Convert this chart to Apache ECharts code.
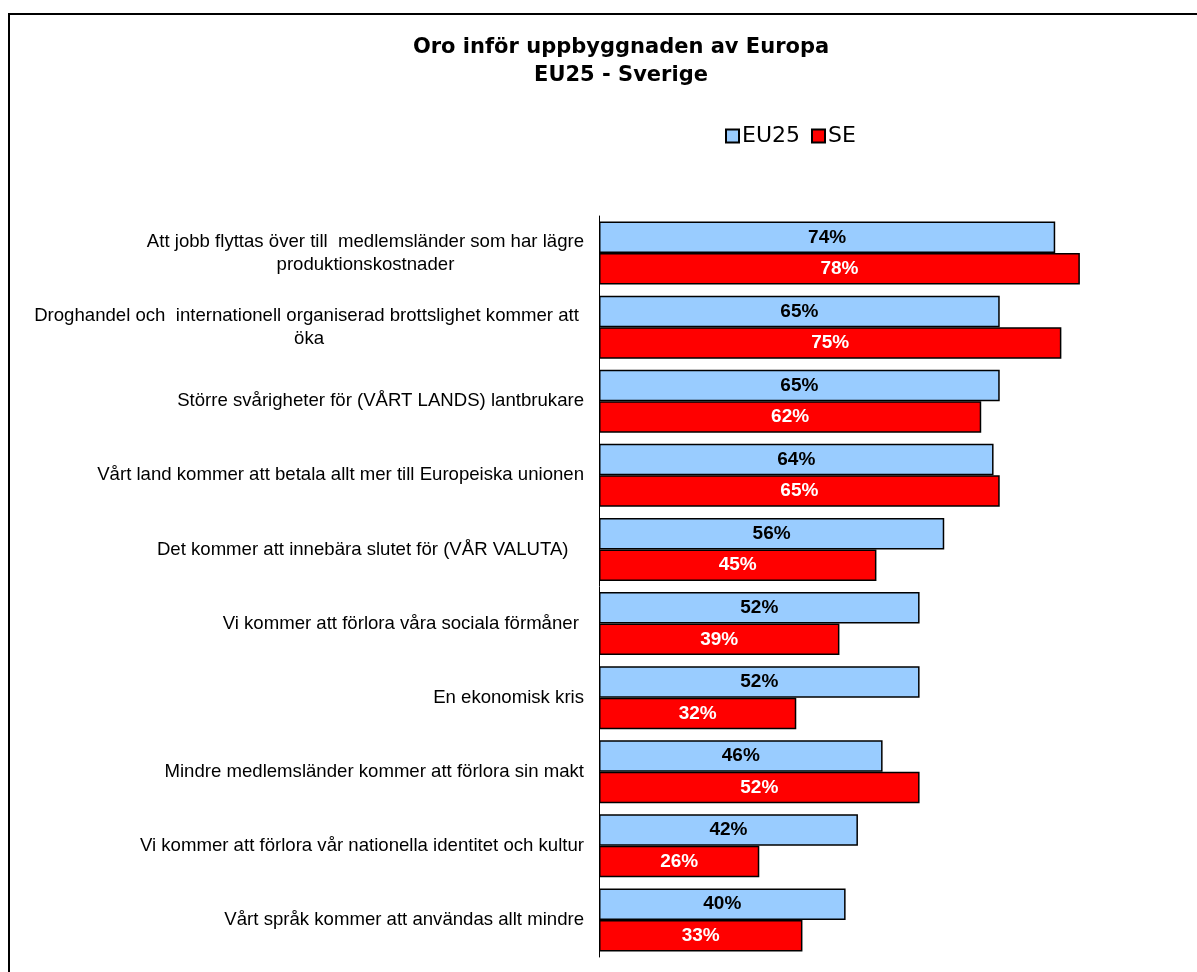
<!DOCTYPE html>
<html>
<head>
<meta charset="utf-8">
<script src="https://cdn.jsdelivr.net/npm/echarts@6/dist/echarts.min.js"></script>
<style>
    html, body { margin: 0; padding: 0; background: #ffffff; }
    #chart { width: 1197px; height: 972px; }
</style>
</head>
<body>
<div id="chart"></div>
<script>
    // kategorier (uppifrån och ned)
    let categories = [
        'Att jobb flyttas över till  medlemsländer som har lägre\nproduktionskostnader',
        'Droghandel och  internationell organiserad brottslighet kommer att \nöka',
        'Större svårigheter för (VÅRT LANDS) lantbrukare',
        'Vårt land kommer att betala allt mer till Europeiska unionen',
        'Det kommer att innebära slutet för (VÅR VALUTA)   ',
        'Vi kommer att förlora våra sociala förmåner ',
        'En ekonomisk kris',
        'Mindre medlemsländer kommer att förlora sin makt',
        'Vi kommer att förlora vår nationella identitet och kultur',
        'Vårt språk kommer att användas allt mindre'
    ]
    let eu25 = [74, 65, 65, 64, 56, 52, 52, 46, 42, 40]
    let se = [78, 75, 62, 65, 45, 39, 32, 52, 26, 33]

    let chart = echarts.init(document.getElementById('chart'))
    chart.setOption({
        animation: false,
        title: {
            text: 'Oro inför uppbyggnaden av Europa\nEU25 - Sverige',
            left: 616,
            top: 29,
            textAlign: 'center',
            textStyle: {
                fontFamily: 'DejaVu Sans',
                fontWeight: 'bold',
                fontSize: 21,
                lineHeight: 28,
                color: '#000'
            }
        },
        legend: {
            data: ['EU25', 'SE'],
            left: 720,
            top: 120,
            icon: 'rect',
            itemWidth: 13,
            itemHeight: 13,
            itemGap: 11,
            textStyle: { fontFamily: 'DejaVu Sans', fontSize: 22, lineHeight: 22, color: '#000', padding: [0, 0, 0, -2] }
        },
        graphic: [{
            type: 'rect',
            shape: { x: 9, y: 14, width: 1300, height: 1100 },
            style: { fill: 'none', stroke: '#000', lineWidth: 2 }
        }],
        // bilden är beskuren till höger, skalan ~6.16 px per procent
        grid: { left: 599, top: 216, right: 0, height: 741 },
        xAxis: {
            type: 'value',
            min: 0,
            max: 97,
            show: false
        },
        yAxis: {
            type: 'category',
            inverse: true,
            data: categories,
            axisLine: { lineStyle: { color: '#000', width: 1 } },
            axisTick: { length: 4, lineStyle: { color: '#000' } },
            axisLabel: {
                margin: 15,
                fontFamily: 'Liberation Sans',
                fontSize: 18.6,
                color: '#000',
                lineHeight: 23,
                formatter: function (v) {
                    return v.split('\n').map(function (s) { return '{c|' + s + '}' }).join('\n')
                },
                rich: { c: { align: 'center', fontFamily: 'Liberation Sans', fontSize: 18.6, lineHeight: 23, color: '#000' } }
            }
        },
        series: [
            {
                name: 'EU25',
                type: 'bar',
                data: eu25,
                barGap: '0%',
                barCategoryGap: '15%',
                itemStyle: { color: '#99CCFF', borderColor: '#000', borderWidth: 1.5 },
                label: {
                    show: true,
                    position: 'inside',
                    formatter: '{c}%',
                    fontFamily: 'Liberation Sans',
                    fontWeight: 'bold',
                    fontSize: 19,
                    color: '#000'
                }
            },
            {
                name: 'SE',
                type: 'bar',
                data: se,
                itemStyle: { color: '#FF0000', borderColor: '#000', borderWidth: 1.5 },
                label: {
                    show: true,
                    position: 'inside',
                    formatter: '{c}%',
                    fontFamily: 'Liberation Sans',
                    fontWeight: 'bold',
                    fontSize: 19,
                    color: '#fff'
                }
            }
        ]
    })
</script>
</body>
</html>
